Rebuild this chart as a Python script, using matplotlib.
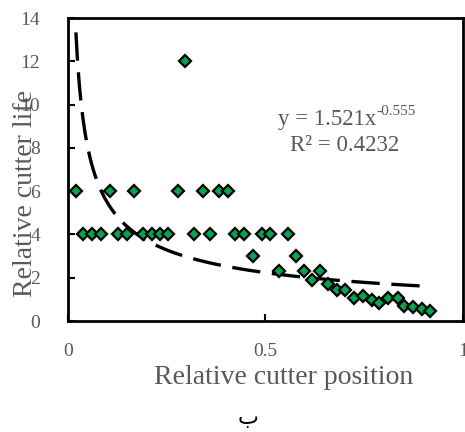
import numpy as np
import matplotlib
matplotlib.use("Agg")
import matplotlib.pyplot as plt

# data
pos_6 = [0.020, 0.106, 0.167, 0.278, 0.342, 0.382, 0.405]
life_6 = [6, 6, 6, 6, 6, 6, 6]

pos_4 = [0.038, 0.061, 0.084, 0.127, 0.149, 0.190, 0.213, 0.233, 0.253,
         0.319, 0.359, 0.423, 0.446, 0.491, 0.511, 0.557]
life_4 = [4] * len(pos_4)

pos_rest = [0.296, 0.468, 0.534, 0.577, 0.597, 0.618, 0.638, 0.658, 0.681,
            0.701, 0.724, 0.747, 0.770, 0.787, 0.810, 0.835, 0.851, 0.873,
            0.896, 0.916]
life_rest = [12.0, 3.0, 2.3, 3.0, 2.3, 1.9, 2.3, 1.7, 1.45,
             1.45, 1.05, 1.15, 0.97, 0.85, 1.05, 1.05, 0.68, 0.66,
             0.56, 0.44]

fit_a = 1.521
fit_b = -0.555
fit_r2 = 0.4232

x = np.array(pos_6 + pos_4 + pos_rest)
y = np.array(life_6 + life_4 + life_rest)

grey = "#595959"
serif = ["Liberation Serif", "DejaVu Serif"]

fig = plt.figure(figsize=(4.65, 4.32), dpi=100)
ax = fig.add_axes([0.1462, 0.2569, 0.8495, 0.7014])

xf = np.linspace(x.min(), x.max(), 200)
ax.plot(xf, fit_a * xf ** fit_b, color="black", lw=2.4, dashes=(8.5, 3.5),
        zorder=2)
ax.plot(x, y, "D", ms=6.2, mfc="#00a550", mec="black", mew=1.6, zorder=3)

ax.set_xlim(0, 1)
ax.set_ylim(0, 14)
ax.set_xticks([0, 0.5, 1])
ax.set_xticklabels(["0", "0.5", "1"])
ax.set_yticks(range(0, 15, 2))
ax.tick_params(direction="in", length=5, width=1.5, colors="black",
               labelcolor=grey, labelsize=14, pad=16)
ax.tick_params(axis="y", pad=20)
for lab in ax.get_xticklabels() + ax.get_yticklabels():
    lab.set_family(serif)
for s in ax.spines.values():
    s.set_linewidth(2)

ax.set_xlabel("Relative cutter position", fontsize=20, color=grey,
              family=serif)
ax.xaxis.set_label_coords(0.545, -0.145)
ax.set_ylabel("Relative cutter life", fontsize=20, color=grey,
              family=serif)
ax.yaxis.set_label_coords(-0.075, 0.42)

# trend line label (Excel style, plain hyphen in the exponent)
eq = ax.text(0.656, 9.3, "y = %.3fx" % fit_a, ha="center", va="center",
             fontsize=16.5, color=grey, family=serif)
ax.annotate("%.3f" % fit_b, xy=(1, 0.6), xycoords=eq, ha="left",
            va="bottom", fontsize=11, color=grey, family=serif)
ax.text(0.70, 8.1, "R² = %.4f" % fit_r2, ha="center", va="center",
        fontsize=16.5, color=grey, family=serif)

fig.text(248 / 465, 1 - 418 / 432, "ب", ha="center", va="center",
         fontsize=16, color="black", family=["DejaVu Sans"])

fig.savefig("out.png", dpi=100)
